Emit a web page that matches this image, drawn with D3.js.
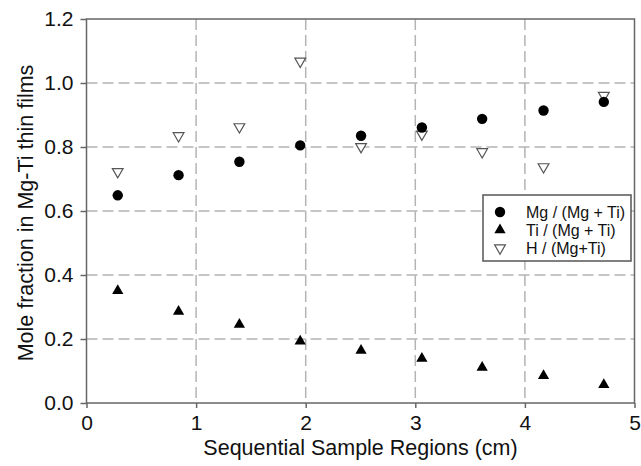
<!DOCTYPE html>
<html>
<head>
<meta charset="utf-8">
<script src="https://cdn.jsdelivr.net/npm/d3@7"></script>
<style>
  body { margin: 0; background: #fff; }
  text { font-family: "Liberation Sans", Arial, sans-serif; }
</style>
</head>
<body>
<script>
// data
const regions = [0.285, 0.84, 1.395, 1.95, 2.505, 3.06, 3.61, 4.17, 4.72];
const mgFrac = [0.649, 0.712, 0.754, 0.805, 0.835, 0.861, 0.888, 0.914, 0.941];
const tiFrac = [0.351, 0.286, 0.245, 0.193, 0.164, 0.139, 0.111, 0.085, 0.057];
const hFrac = [0.723, 0.835, 0.863, 1.068, 0.801, 0.840, 0.785, 0.738, 0.961];
const xTicks = [0, 1, 2, 3, 4, 5];
const yTicks = [0, 0.2, 0.4, 0.6, 0.8, 1.0, 1.2];
const seriesNames = ["Mg / (Mg + Ti)", "Ti / (Mg + Ti)", "H / (Mg+Ti)"];

// create svg canvas
const canvWidth = 641, canvHeight = 466;
const svg = d3.select("body").append("svg")
    .attr("width", canvWidth)
    .attr("height", canvHeight);

const margin = {top: 19, right: 6.5, bottom: 63, left: 86.5};
const width = canvWidth - margin.left - margin.right;
const height = canvHeight - margin.top - margin.bottom;

const g = svg.append("g")
    .attr("transform", "translate(" + margin.left + "," + margin.top + ")");

const xScale = d3.scaleLinear().domain([0, 5]).range([0, width]);
const yScale = d3.scaleLinear().domain([0, 1.2]).range([height, 0]);

// dashed grid
g.append("g").selectAll("line")
    .data(xTicks.slice(1, -1))
    .join("line")
    .attr("x1", d => xScale(d)).attr("x2", d => xScale(d))
    .attr("y1", 0).attr("y2", height)
    .attr("stroke", "#b4b4b4")
    .attr("stroke-width", 1.5)
    .attr("stroke-dasharray", "11,5");

g.append("g").selectAll("line")
    .data(yTicks.slice(1, -1))
    .join("line")
    .attr("x1", 0).attr("x2", width)
    .attr("y1", d => yScale(d)).attr("y2", d => yScale(d))
    .attr("stroke", "#b4b4b4")
    .attr("stroke-width", 1.5)
    .attr("stroke-dasharray", "11,5");

// frame
g.append("rect")
    .attr("width", width)
    .attr("height", height)
    .attr("fill", "none")
    .attr("stroke", "#666")
    .attr("stroke-width", 1.5);

// axes
const xAxis = d3.axisBottom(xScale).tickValues(xTicks).tickFormat(d3.format("d"))
    .tickSizeInner(5).tickSizeOuter(0).tickPadding(7);
const xg = g.append("g")
    .attr("transform", "translate(0," + height + ")")
    .call(xAxis);

const yAxis = d3.axisLeft(yScale).tickValues(yTicks).tickFormat(d3.format(".1f"))
    .tickSizeInner(6).tickSizeOuter(0).tickPadding(7);
const yg = g.append("g").call(yAxis);

[xg, yg].forEach(a => {
    a.select(".domain").remove();
    a.selectAll(".tick line").attr("stroke", "#666").attr("stroke-width", 1.5);
    a.selectAll(".tick text")
        .attr("fill", "#111")
        .attr("font-size", "21px")
        .attr("font-family", "'Liberation Sans', Arial, sans-serif");
});

// axis titles
svg.append("text")
    .attr("x", margin.left + width / 2)
    .attr("y", 455)
    .attr("text-anchor", "middle")
    .attr("font-size", "21.5px")
    .attr("fill", "#111")
    .text("Sequential Sample Regions (cm)");

svg.append("text")
    .attr("transform", "translate(33," + (margin.top + height / 2 + 2) + ") rotate(-90)")
    .attr("text-anchor", "middle")
    .attr("font-size", "21.5px")
    .attr("fill", "#111")
    .text("Mole fraction in Mg-Ti thin films");

// points
const circ = d3.symbol().type(d3.symbolCircle).size(85);
const triUp = d3.symbol().type(d3.symbolTriangle).size(55);
const triDown = d3.symbol().type(d3.symbolTriangle).size(50);

g.append("g").selectAll("path")
    .data(regions.map((x, i) => [x, hFrac[i]]))
    .join("path")
    .attr("d", triDown)
    .attr("transform", d => "translate(" + xScale(d[0]) + "," + yScale(d[1]) + ") rotate(180)")
    .attr("fill", "#fff")
    .attr("stroke", "#555")
    .attr("stroke-width", 1.2);

g.append("g").selectAll("path")
    .data(regions.map((x, i) => [x, mgFrac[i]]))
    .join("path")
    .attr("d", circ)
    .attr("transform", d => "translate(" + xScale(d[0]) + "," + yScale(d[1]) + ")")
    .attr("fill", "#000");

g.append("g").selectAll("path")
    .data(regions.map((x, i) => [x, tiFrac[i]]))
    .join("path")
    .attr("d", triUp)
    .attr("transform", d => "translate(" + xScale(d[0]) + "," + yScale(d[1]) + ")")
    .attr("fill", "#000");

// legend
const legend = svg.append("g").attr("transform", "translate(483,195)");
legend.append("rect")
    .attr("width", 148)
    .attr("height", 66)
    .attr("fill", "#fff")
    .attr("stroke", "#555")
    .attr("stroke-width", 1.5);

const markers = [circ, triUp, triDown];
seriesNames.forEach((name, i) => {
    const yy = 17 + i * 18;
    legend.append("path")
        .attr("d", markers[i])
        .attr("transform", "translate(17," + yy + ")" + (i === 2 ? " rotate(180)" : ""))
        .attr("fill", i === 2 ? "#fff" : "#000")
        .attr("stroke", i === 2 ? "#555" : "none")
        .attr("stroke-width", 1.2);
    legend.append("text")
        .attr("x", 43)
        .attr("y", yy)
        .attr("dy", "0.35em")
        .attr("font-size", "16px")
        .attr("fill", "#111")
        .text(name);
});
</script>
</body>
</html>
